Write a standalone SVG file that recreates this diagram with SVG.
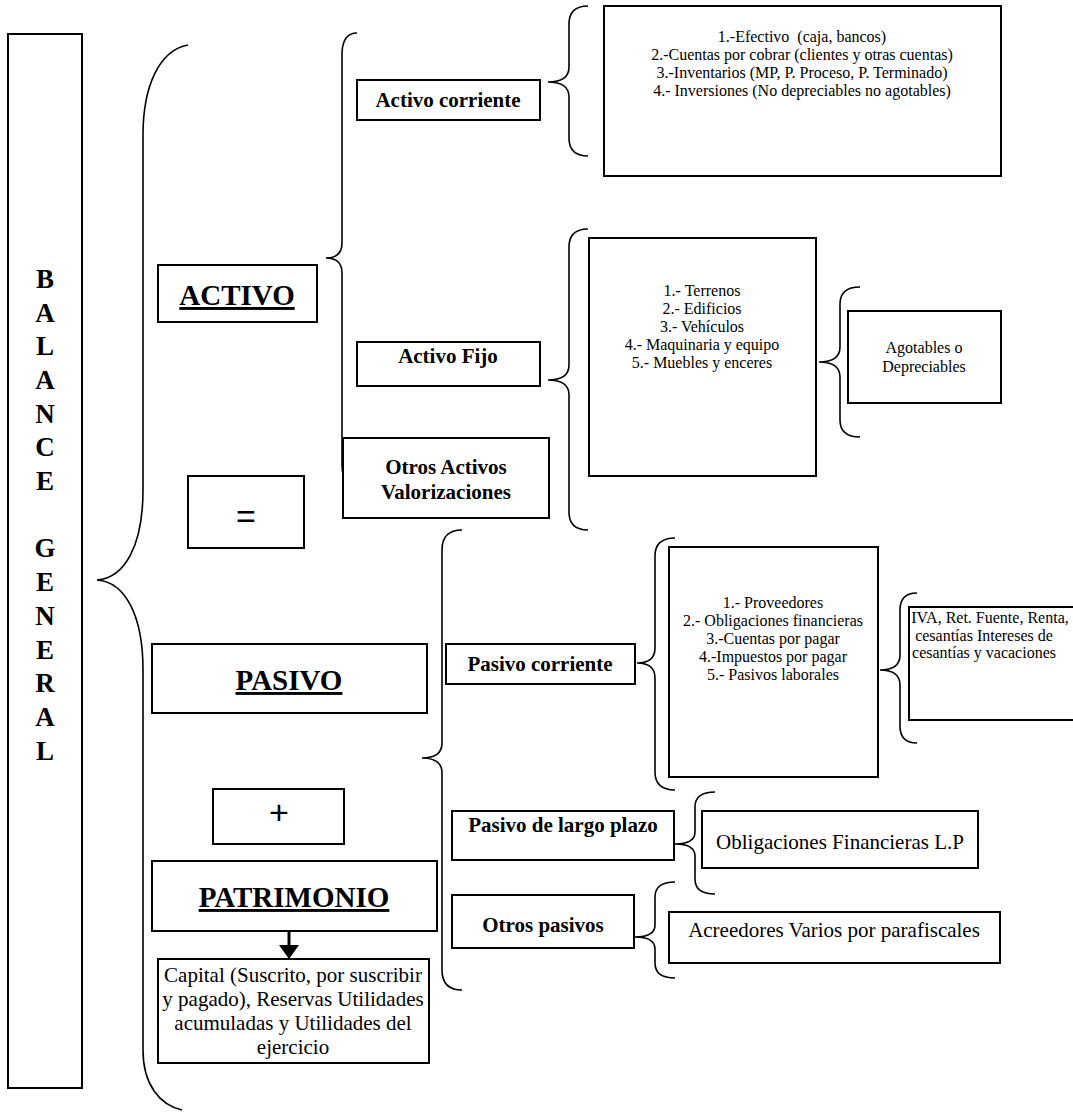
<svg xmlns="http://www.w3.org/2000/svg" width="1073" height="1112" viewBox="0 0 1073 1112">
<style>
.box{fill:#fff;stroke:#000;stroke-width:2}
.br{fill:none;stroke:#000;stroke-width:1.6}
text{font-family:"Liberation Serif","Times New Roman",serif;fill:#000;text-anchor:middle}
.big{font-size:29px;font-weight:bold;text-decoration:underline}
.h{font-size:21px;font-weight:bold}
.t{font-size:16px}
.t3{font-size:21px}
.v{font-size:27px;font-weight:bold}
.sym{font-family:"Liberation Sans",Arial,sans-serif;font-size:34px}
</style>
<rect width="1073" height="1112" fill="#fff"/>

<g id="balance-general">
<rect class="box" x="8" y="34" width="74" height="1054"/>
<text class="v" x="45" y="288">B</text>
<text class="v" x="45" y="322">A</text>
<text class="v" x="45" y="355">L</text>
<text class="v" x="45" y="389">A</text>
<text class="v" x="45" y="423">N</text>
<text class="v" x="45" y="456">C</text>
<text class="v" x="45" y="490">E</text>
<text class="v" x="45" y="557">G</text>
<text class="v" x="45" y="591">E</text>
<text class="v" x="45" y="625">N</text>
<text class="v" x="45" y="659">E</text>
<text class="v" x="45" y="692">R</text>
<text class="v" x="45" y="726">A</text>
<text class="v" x="45" y="760">L</text>
</g>

<g id="connectors">
<path class="br" d="M188,45 C160,50 143,85 143,135 L143,490 C143,545 125,578 97,580 C125,582 143,615 143,670 L143,1050 C143,1085 160,1105 182,1110"/>
<path class="br" d="M357,33 Q342,33 342,55 L342,243 Q342,258 326,258 Q342,258 342,273 L342,465 Q342,485 357,485"/>
<path class="br" d="M588,6 Q569,6 569,24 L569,67 Q569,82 548,82 Q569,82 569,97 L569,138 Q569,156 588,156"/>
<path class="br" d="M588,229 Q569,229 569,247 L569,365 Q569,380 548,380 Q569,380 569,395 L569,512 Q569,530 588,530"/>
<path class="br" d="M860,287 Q840,287 840,304 L840,347 Q840,362 819,362 Q840,362 840,377 L840,420 Q840,437 860,437"/>
<path class="br" d="M462,530 Q442,530 442,550 L442,743 Q442,758 422,758 Q442,758 442,773 L442,970 Q442,990 462,990"/>
<path class="br" d="M675,538 Q655,538 655,556 L655,648 Q655,663 637,663 Q655,663 655,678 L655,772 Q655,790 675,790"/>
<path class="br" d="M917,593 Q900,593 900,610 L900,655 Q900,670 880,670 Q900,670 900,685 L900,726 Q900,743 917,743"/>
<path class="br" d="M715,792 Q695,792 695,807 L695,832 Q695,844 675,844 Q695,844 695,856 L695,879 Q695,894 715,894"/>
<path class="br" d="M675,882 Q655,882 655,897 L655,925 Q655,937 635,937 Q655,937 655,949 L655,963 Q655,978 675,978"/>
<line x1="289" y1="931" x2="289" y2="946" stroke="#000" stroke-width="3"/>
<polygon points="279,945 299,945 289,959" fill="#000"/>
</g>

<g id="activo">
<rect class="box" x="158" y="265" width="159" height="57"/>
<text class="big" x="237" y="305">ACTIVO</text>
</g>
<g id="igual">
<rect class="box" x="188" y="476" width="116" height="72"/>
<text class="sym" x="246" y="528">=</text>
</g>
<g id="pasivo">
<rect class="box" x="152" y="644" width="275" height="69"/>
<text class="big" x="289" y="690">PASIVO</text>
</g>
<g id="mas">
<rect class="box" x="213" y="789" width="131" height="55"/>
<text class="sym" x="279" y="824">+</text>
</g>
<g id="patrimonio">
<rect class="box" x="152" y="861" width="285" height="70"/>
<text class="big" x="294" y="907">PATRIMONIO</text>
</g>
<g id="capital">
<rect class="box" x="158" y="959" width="271" height="104"/>
<text class="t3" x="293" y="982">Capital (Suscrito, por suscribir</text>
<text class="t3" x="293" y="1006">y pagado), Reservas Utilidades</text>
<text class="t3" x="293" y="1030">acumuladas y Utilidades del</text>
<text class="t3" x="293" y="1054">ejercicio</text>
</g>

<g id="activo-corriente">
<rect class="box" x="357" y="80" width="183" height="40"/>
<text class="h" x="448" y="107">Activo corriente</text>
</g>
<g id="activo-fijo">
<rect class="box" x="357" y="342" width="183" height="44"/>
<text class="h" x="448" y="363">Activo Fijo</text>
</g>
<g id="otros-activos">
<rect class="box" x="343" y="438" width="206" height="80"/>
<text class="h" x="446" y="474">Otros Activos</text>
<text class="h" x="446" y="499">Valorizaciones</text>
</g>

<g id="lista-activo-corriente">
<rect class="box" x="604" y="6" width="397" height="170"/>
<text class="t" x="802" y="42" xml:space="preserve">1.-Efectivo  (caja, bancos)</text>
<text class="t" x="802" y="60">2.-Cuentas por cobrar (clientes y otras cuentas)</text>
<text class="t" x="802" y="78">3.-Inventarios (MP, P. Proceso, P. Terminado)</text>
<text class="t" x="802" y="96">4.- Inversiones (No depreciables no agotables)</text>
</g>
<g id="lista-activo-fijo">
<rect class="box" x="589" y="238" width="227" height="238"/>
<text class="t" x="702" y="296">1.- Terrenos</text>
<text class="t" x="702" y="314">2.- Edificios</text>
<text class="t" x="702" y="332">3.- Vehículos</text>
<text class="t" x="702" y="350">4.- Maquinaria y equipo</text>
<text class="t" x="702" y="368">5.- Muebles y enceres</text>
</g>
<g id="agotables">
<rect class="box" x="848" y="311" width="153" height="92"/>
<text class="t" x="924" y="353">Agotables o</text>
<text class="t" x="924" y="372">Depreciables</text>
</g>

<g id="pasivo-corriente">
<rect class="box" x="446" y="644" width="189" height="40"/>
<text class="h" x="540" y="671">Pasivo corriente</text>
</g>
<g id="lista-pasivo-corriente">
<rect class="box" x="669" y="547" width="209" height="230"/>
<text class="t" x="773" y="608">1.- Proveedores</text>
<text class="t" x="773" y="626">2.- Obligaciones financieras</text>
<text class="t" x="773" y="644">3.-Cuentas por pagar</text>
<text class="t" x="773" y="662">4.-Impuestos por pagar</text>
<text class="t" x="773" y="680">5.- Pasivos laborales</text>
</g>
<g id="iva">
<rect class="box" x="909" y="607" width="180" height="113"/>
<text class="t" x="990" y="623">IVA, Ret. Fuente, Renta,</text>
<text class="t" x="984" y="641">cesantías Intereses de</text>
<text class="t" x="984" y="658">cesantías y vacaciones</text>
</g>

<g id="pasivo-largo-plazo">
<rect class="box" x="452" y="811" width="222" height="49"/>
<text class="h" x="563" y="832">Pasivo de largo plazo</text>
</g>
<g id="obligaciones-lp">
<rect class="box" x="702" y="811" width="276" height="57"/>
<text class="t3" x="840" y="849">Obligaciones Financieras L.P</text>
</g>
<g id="otros-pasivos">
<rect class="box" x="452" y="895" width="182" height="53"/>
<text class="h" x="543" y="932">Otros pasivos</text>
</g>
<g id="acreedores">
<rect class="box" x="669" y="912" width="331" height="51"/>
<text class="t3" x="834" y="937">Acreedores Varios por parafiscales</text>
</g>
</svg>
